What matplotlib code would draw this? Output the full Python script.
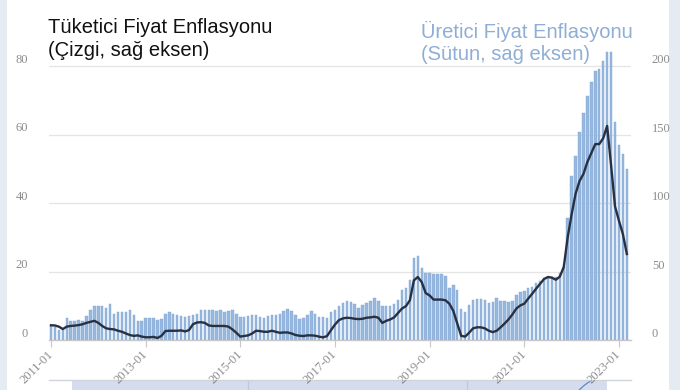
import matplotlib
matplotlib.use('Agg')
import matplotlib.pyplot as plt
from matplotlib.patches import Rectangle
import numpy as np
import pandas as pd

# ---------------- data ----------------
months = pd.period_range('2011-01', periods=147, freq='M').strftime('%Y-%m').tolist()

# Producer price inflation (bars, right axis)
ppi = [10.4, 9.7, 7.2, 8.0, 16.4, 14.0, 14.0, 14.7, 14.0, 17.6, 21.7, 24.9,
       24.9, 24.9, 23.7, 26.6, 18.8, 20.8, 20.8, 20.8, 21.7, 18.4, 14.0, 14.0,
       16.4, 15.9, 16.4, 14.5, 15.2, 19.3, 20.8, 19.3, 18.4, 17.4, 16.9, 17.4,
       18.4, 19.3, 21.7, 21.7, 21.7, 22.2, 21.3, 22.2, 20.8, 21.3, 21.7, 18.8,
       17.0, 16.9, 17.4, 18.6, 18.6, 16.9, 16.4, 17.4, 18.6, 18.1, 18.8, 21.3,
       22.7, 21.0, 17.9, 15.5, 15.7, 18.1, 21.0, 18.8, 16.9, 16.9, 16.4, 20.5,
       22.2, 24.6, 27.1, 28.3, 27.8, 26.1, 23.7, 25.4, 27.1, 28.5, 30.9, 28.5,
       24.6, 24.6, 24.6, 26.1, 29.5, 36.7, 38.2, 43.5, 59.9, 61.6, 52.5, 49.0,
       49.0, 48.0, 48.5, 48.0, 46.5, 38.2, 40.0, 36.3, 22.3, 20.5, 25.5, 29.0,
       29.7, 29.7, 29.2, 26.8, 28.0, 30.4, 28.7, 28.7, 28.0, 28.7, 32.8, 35.3,
       36.0, 37.7, 38.9, 41.8, 43.3, 45.0, 45.7, 46.2, 46.2, 48.7, 53.5, 89.0,
       120.0, 134.5, 151.5, 166.0, 178.0, 188.0, 196.0, 198.0, 204.0, 210.0, 210.0, 159.0,
       142.0, 136.0, 125.0]

# Consumer price inflation (line, left axis)
cpi = [4.3, 4.25, 3.9, 3.2, 3.9, 4.1, 4.2, 4.35, 4.6, 5.0, 5.3, 5.6,
       5.0, 4.1, 3.4, 3.2, 3.1, 2.7, 2.4, 1.9, 1.45, 1.2, 1.35, 1.0,
       0.8, 0.8, 0.9, 0.6, 1.2, 2.6, 2.7, 2.7, 2.7, 2.8, 2.5, 2.9,
       4.6, 5.1, 5.2, 5.0, 4.25, 4.1, 4.1, 4.1, 4.1, 3.9, 3.1, 2.1,
       1.0, 1.16, 1.35, 1.9, 2.7, 2.6, 2.4, 2.4, 2.7, 2.4, 2.1, 2.2,
       2.2, 1.9, 1.45, 1.25, 1.16, 1.35, 1.35, 1.25, 0.97, 0.77, 1.16, 2.9,
       4.5, 5.8, 6.3, 6.5, 6.4, 6.2, 6.1, 6.2, 6.5, 6.6, 6.8, 6.5,
       5.0, 5.6, 6.0, 6.6, 7.9, 9.2, 9.9, 11.6, 17.4, 18.4, 16.9, 13.7,
       13.0, 11.8, 11.8, 11.8, 11.6, 10.6, 8.5, 4.8, 1.2, 1.0, 2.1, 3.4,
       3.7, 3.7, 3.4, 2.7, 2.3, 2.7, 3.7, 4.8, 6.0, 7.5, 9.2, 10.1,
       10.6, 12.1, 13.5, 15.0, 16.4, 17.8, 18.4, 18.2, 17.6, 18.5, 21.3, 30.0,
       36.7, 42.7, 46.4, 48.5, 52.0, 54.6, 57.2, 57.2, 58.9, 62.5, 51.0, 39.0,
       34.8, 30.9, 25.1]

tick_labels = ['2011-01', '2013-01', '2015-01', '2017-01', '2019-01', '2021-01', '2023-01']
right_ticks = [0, 50, 100, 150, 200]
left_ticks = [0, 20, 40, 60, 80]

title_left = 'Tüketici Fiyat Enflasyonu\n(Çizgi, sağ eksen)'
title_right = 'Üretici Fiyat Enflasyonu\n(Sütun, sağ eksen)'

# ---------------- figure ----------------
W, H = 680, 390
fig = plt.figure(figsize=(W / 100, H / 100), dpi=100)
fig.patch.set_facecolor('white')
fig.add_artist(Rectangle((0, 0), 7 / W, 1, transform=fig.transFigure,
                         facecolor='#e6ebf3', edgecolor='none', zorder=0))
fig.add_artist(Rectangle((669 / W, 0), 11 / W, 1, transform=fig.transFigure,
                         facecolor='#e6ebf3', edgecolor='none', zorder=0))

x = np.arange(len(months))
tick_pos = [months.index(t) for t in tick_labels]
xlim = (-0.5, 147.05)
label_color = '#8c8c8c'

# navigator (data zoom) strip at the bottom
nav = fig.add_axes([49 / W, (H - 427.5) / H, 582 / W, 47.5 / H])
nav.set_xlim(*xlim)
nav.set_ylim(0, 190)
nav.axvspan(5.3, 141.0, color='#d5dcee', lw=0, zorder=0)
nav.axvline(49.9, color='#bfc8de', lw=1, zorder=1)
nav.axvline(105.5, color='#bfc8de', lw=1, zorder=1)
nav.plot(x[:141], ppi[:141], color='#5b87cf', lw=0.9, zorder=2)
for s in ['left', 'right', 'bottom']:
    nav.spines[s].set_visible(False)
nav.spines['top'].set_color('#cfd3da')
nav.spines['top'].set_linewidth(1)
nav.set_xticks([])
nav.set_yticks([])
nav.patch.set_alpha(0)

# main axes: bars (right axis scale); twin: line (left axis scale)
ax = fig.add_axes([49 / W, 50 / H, 582 / W, 300 / H])
ax2 = ax.twinx()

ax.bar(x, ppi, width=0.62, color='#98b9df', edgecolor='#7ea4d2', linewidth=0.3, zorder=2)
ax.set_xlim(*xlim)
ax.set_ylim(0, 218.98)
ax.set_yticks(right_ticks)
ax.grid(axis='y', color='#e4e4e4', lw=0.9)
ax.set_axisbelow(True)
for s in ['top', 'left', 'right']:
    ax.spines[s].set_visible(False)
ax.spines['bottom'].set_color('#c8c8c8')
ax.spines['bottom'].set_linewidth(1)
ax.set_xticks(tick_pos)
ax.set_xticklabels(tick_labels, rotation=45, ha='right', va='center',
                   rotation_mode='anchor', fontfamily='Liberation Serif',
                   fontsize=9, color=label_color)
ax.tick_params(axis='x', length=5, color='#c8c8c8', pad=4)
ax.tick_params(axis='y', which='both', left=False, right=False,
               labelleft=False, labelright=True, pad=11.5,
               labelsize=9, labelcolor=label_color)

ax2.plot(x, cpi, color='#283041', lw=1.7, solid_joinstyle='round', zorder=3)
ax2.set_xlim(*xlim)
ax2.set_ylim(0, 87.59)
ax2.set_yticks(left_ticks)
ax2.tick_params(axis='y', which='both', left=False, right=False,
                labelleft=True, labelright=False, pad=11.5,
                labelsize=9, labelcolor=label_color)
for s in ax2.spines.values():
    s.set_visible(False)

for a in (ax, ax2):
    for t in a.yaxis.get_major_ticks():
        for lbl in (t.label1, t.label2):
            lbl.set_fontfamily('Liberation Serif')
            lbl.set_va('bottom')

# titles
fig.text(48 / W, 1 - 18 / H, title_left, fontfamily='Liberation Sans', fontsize=14.5,
         color='#111111', va='top', ha='left', linespacing=1.25)
fig.text(421 / W, 1 - 21 / H, title_right, fontfamily='Liberation Sans', fontsize=14.5,
         color='#8eaed6', va='top', ha='left', linespacing=1.22)

fig.savefig('out.png', dpi=100)
